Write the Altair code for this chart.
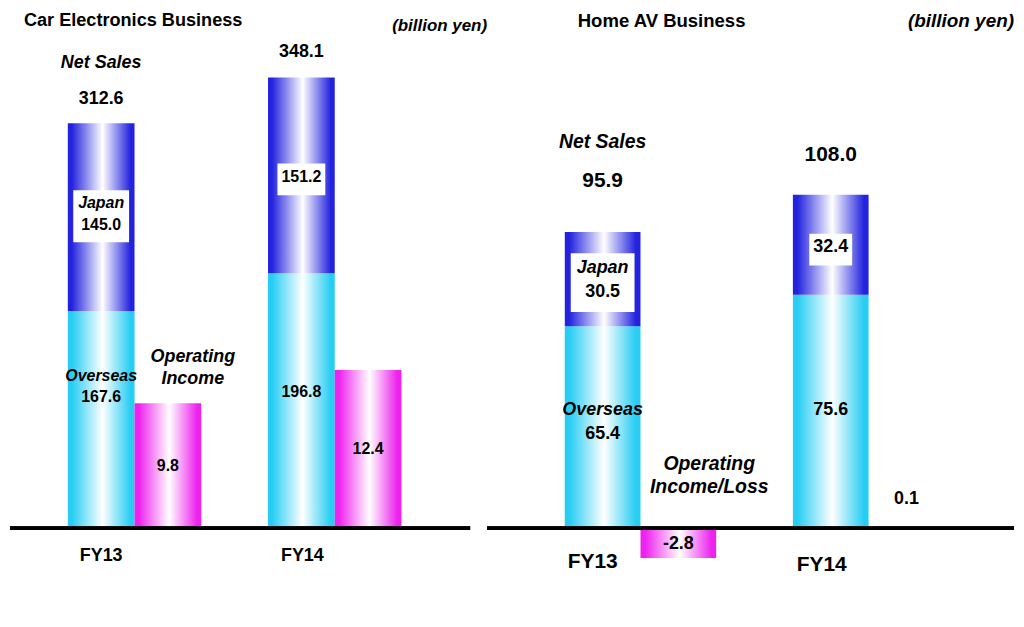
import altair as alt
import pandas as pd

# ---------------- data ----------------
years = ["FY13", "FY14"]
series = ["Net Sales", "Operating Income"]

car_japan = [145.0, 151.2]
car_overseas = [167.6, 196.8]
car_total = [312.6, 348.1]
car_op = [9.8, 12.4]

av_japan = [30.5, 32.4]
av_overseas = [65.4, 75.6]
av_total = [95.9, 108.0]
av_op = [-2.8, 0.1]

panel_titles = ["Car Electronics Business", "Home AV Business"]
unit_label = "(billion yen)"
region_labels = ["Japan", "Overseas"]
op_titles = [["Operating", "Income"], ["Operating", "Income/Loss"]]

# ---------------- style ----------------
FONT = "Liberation Sans"
TFONT = "Liberation Sans"
BLUE = "#2323df"
CYAN = "#27cdf3"
MAG = "#ee22ee"
H = 600
BASE = 521  # baseline position inside plot (px from top)


def grad(c):
    return alt.Gradient(
        gradient="linear", x1=0, x2=1, y1=0, y2=0,
        stops=[
            alt.GradientStop(color=c, offset=0),
            alt.GradientStop(color=c, offset=0.06),
            alt.GradientStop(color="white", offset=0.52),
            alt.GradientStop(color=c, offset=0.94),
            alt.GradientStop(color=c, offset=1),
        ],
    )


def build_panel(japan, overseas, total, op, title, optitle, P):
    sales = pd.DataFrame({"year": years, "series": series[0], "japan": japan,
                          "overseas": overseas, "total": total})
    sales["top"] = sales["overseas"] + sales["japan"]
    sales["jp_mid"] = (sales["overseas"] + sales["top"]) / 2
    sales["os_mid"] = sales["overseas"] / 2
    sales["zero"] = 0.0
    sales["jp_txt"] = sales["japan"].map("{:.1f}".format)
    sales["os_txt"] = sales["overseas"].map("{:.1f}".format)
    sales["tot_txt"] = sales["total"].map("{:.1f}".format)

    opd = pd.DataFrame({"year": years, "series": series[1], "op": op})
    opd["zero"] = 0.0
    opd["mid"] = opd["op"] / 2
    opd["anchor"] = opd["op"].clip(lower=0)
    opd["txt"] = opd["op"].map("{:.1f}".format)
    opd["big"] = opd["op"].abs() >= 1

    ppu_s, ppu_o = P["ppu_s"], P["ppu_o"]
    ss = alt.Scale(domain=[-(H - BASE) / ppu_s, BASE / ppu_s], nice=False, zero=False)
    so = alt.Scale(domain=[-(H - BASE) / ppu_o, BASE / ppu_o], nice=False, zero=False)
    xs = alt.X("year:N", axis=None,
               scale=alt.Scale(domain=years, paddingInner=P["pi"],
                               paddingOuter=P["po"], align=P["align"]))
    xo = alt.XOffset("series:N",
                     scale=alt.Scale(domain=series, paddingInner=0, paddingOuter=0))

    def Y(f, sc):
        return alt.Y(f"{f}:Q", scale=sc, axis=None)

    layers = []
    # bars
    layers.append(alt.Chart(sales).mark_bar(color=grad(CYAN)).encode(
        x=xs, xOffset=xo, y=Y("zero", ss), y2=alt.Y2("overseas:Q")))
    layers.append(alt.Chart(sales).mark_bar(color=grad(BLUE)).encode(
        x=xs, xOffset=xo, y=Y("overseas", ss), y2=alt.Y2("top:Q")))
    layers.append(alt.Chart(opd).mark_bar(color=grad(MAG)).encode(
        x=xs, xOffset=xo, y=Y("op", so), y2=alt.Y2("zero:Q")))
    # baseline
    layers.append(alt.Chart(sales).mark_rule(color="black", strokeWidth=4).encode(
        y=Y("zero", ss)))

    # white boxes behind Japan values
    for yr, (dy, w, h) in P["box"].items():
        r = h / w
        path = f"M-1,{-r:.4f}H1V{r:.4f}H-1Z"
        layers.append(
            alt.Chart(sales).transform_filter(alt.datum.year == yr)
            .mark_point(shape=path, size=w * w, filled=True, color="white",
                        opacity=1, strokeWidth=0, yOffset=dy)
            .encode(x=xs, xOffset=xo, y=Y("jp_mid", ss)))

    def text(df, yfield, sc, txt, dy, size, italic=False, dx=0, yr=None, filt=None):
        ch = alt.Chart(df)
        if yr is not None:
            ch = ch.transform_filter(alt.datum.year == yr)
        if filt is not None:
            ch = ch.transform_filter(filt)
        enc = dict(x=xs, xOffset=xo, y=Y(yfield, sc))
        if isinstance(txt, str) and txt.endswith(":N"):
            enc["text"] = alt.Text(txt)
        else:
            enc["text"] = alt.value(txt)
        return ch.mark_text(dy=dy, dx=dx, fontSize=size, fontWeight="bold",
                            fontStyle="italic" if italic else "normal", font=FONT,
                            color="black", baseline="middle", align="center").encode(**enc)

    for yr in years:
        layers.append(text(sales, "total", ss, "tot_txt:N", P["tot_dy"][yr], P["tot_size"], yr=yr))
        layers.append(text(sales, "jp_mid", ss, "jp_txt:N", P["jp_val"][yr], P["lab_size"], yr=yr))
        layers.append(text(sales, "os_mid", ss, "os_txt:N", P["os_val"][yr], P["lab_size"], yr=yr))
        layers.append(text(sales, "zero", ss, "year:N", P["fy_dy"][yr], P["fy_size"],
                           dx=P["fy_dx"][yr], yr=yr))
    first = years[0]
    layers.append(text(sales, "total", ss, series[0], P["ns_dy"], P["ns_size"], italic=True, yr=first))
    layers.append(text(sales, "jp_mid", ss, region_labels[0], P["jp_title"], P["lab_size"], italic=True, yr=first))
    layers.append(text(sales, "os_mid", ss, region_labels[1], P["os_title"], P["lab_size"], italic=True, yr=first))
    # operating income values
    layers.append(text(opd, "mid", so, "txt:N", P["op_big_dy"], P["op_size"], filt="datum.big"))
    layers.append(text(opd, "op", so, "txt:N", P["op_small_dy"], P["op_size"], filt="!datum.big"))
    # operating income titles
    for line, dy in zip(optitle, P["opt_dy"]):
        layers.append(text(opd, "anchor", so, line, dy, P["opt_size"], italic=True,
                           dx=P["opt_dx"], yr=first))

    # panel title and unit
    tdf = pd.DataFrame({"t": [title], "u": [unit_label]})
    layers.append(alt.Chart(tdf).mark_text(font=TFONT, fontWeight="bold", fontSize=P["title_size"],
                                           align="left", baseline="alphabetic", color="black").encode(
        x=alt.value(P["title_x"]), y=alt.value(P["title_y"]), text="t:N"))
    layers.append(alt.Chart(tdf).mark_text(font=FONT, fontWeight="bold", fontStyle="italic",
                                           fontSize=P["unit_size"], align="right",
                                           baseline="middle", color="black").encode(
        x=alt.value(P["unit_x"]), y=alt.value(P["unit_y"]), text="u:N"))

    return alt.layer(*layers).resolve_scale(y="independent").properties(width=P["W"], height=H)


P_left = dict(
    W=462, pi=1 / 3, po=0.3159, align=0.457, ppu_s=1.30, ppu_o=12.8,
    tot_dy={"FY13": -24, "FY14": -25}, tot_size=18,
    ns_dy=-61, ns_size=18,
    box={"FY13": (-1, 56, 52), "FY14": (4, 48, 32)},
    jp_title=-14, jp_val={"FY13": 8, "FY14": 2},
    os_title=-44, os_val={"FY13": -23, "FY14": -9}, lab_size=16,
    op_big_dy=0, op_small_dy=-28, op_size=16,
    opt_dx=25, opt_dy=(-46, -24), opt_size=18,
    fy_dy={"FY13": 28, "FY14": 28}, fy_dx={"FY13": 0, "FY14": 1}, fy_size=18,
    title_x=14, title_y=17, title_size=18.2,
    unit_x=479, unit_y=17, unit_size=17,
)

P_right = dict(
    W=529, pi=0.3362, po=0.3231, align=0.527, ppu_s=3.1, ppu_o=10.7,
    tot_dy={"FY13": -51, "FY14": -40}, tot_size=21,
    ns_dy=-90, ns_size=19.5,
    box={"FY13": (3.5, 64, 59), "FY14": (5, 43, 32)},
    jp_title=-11, jp_val={"FY13": 13, "FY14": 2},
    os_title=-17, os_val={"FY13": 7, "FY14": -1}, lab_size=18,
    op_big_dy=1, op_small_dy=-28, op_size=18,
    opt_dx=31, opt_dy=(-64, -41), opt_size=19.5,
    fy_dy={"FY13": 34, "FY14": 37}, fy_dx={"FY13": -10, "FY14": -9}, fy_size=21,
    title_x=91, title_y=17.5, title_size=18.6,
    unit_x=529, unit_y=12, unit_size=19,
)

left = build_panel(car_japan, car_overseas, car_total, car_op, panel_titles[0], op_titles[0], P_left)
right = build_panel(av_japan, av_overseas, av_total, av_op, panel_titles[1], op_titles[1], P_right)

chart = (
    alt.hconcat(left, right, spacing=17, bounds="flush")
    .resolve_scale(x="independent", xOffset="independent")
    .properties(padding=0, background="white")
    .configure_view(stroke=None)
)

chart.save("out.html", embed_options={"renderer": "svg", "actions": False})
